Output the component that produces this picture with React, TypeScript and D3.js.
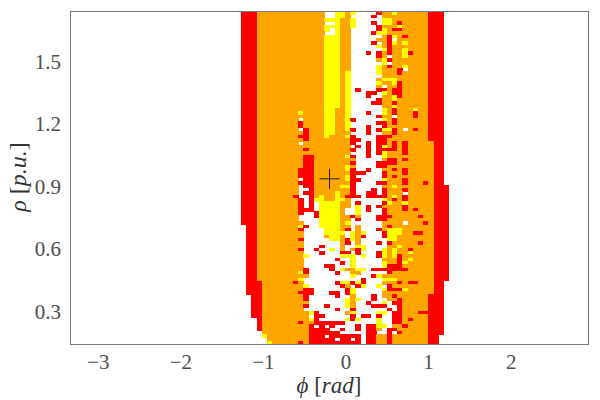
import React from 'react';
import * as d3 from 'd3';

// grid is 100 x 100, only columns 33..72 hold anything
const firstColumn = 33;
const gridSize = 100;

// r red, o orange, y yellow, w white. top row first, spaces are only for reading
const rows = [
  'rrr oooooooo ooooo wwyyo ywwww rooyo ooooo rrrw',
  'rrr oooooooo ooooo wwyyo wwwwr woooo ooooo rrrw',
  'rrr oooooooo ooooo yyyoo ywwww wyyoo ooooo rrrw',
  'rrr oooooooo ooooo wwyoo ywwwr wyyor ooooo rrrw',
  'rrr oooooooo ooooo yyyoo ywwww roooy ooooo rrrw',
  'rrr oooooooo ooooo ywyoo wwwww ryorr ooooo rrrw',
  'rrr oooooooo ooooo wwyoo wwwwr yyooo ooooo rrrw',
  'rrr oooooooo ooooo yyyoo wwwww woryo roooo rrrw',
  'rrr oooooooo ooooo yyyoo wwwww oorwo ooooo rrrw',
  'rrr oooooooo ooooo yyyoo wwwwr woryo yoooo rrrw',
  'rrr oooooooo ooooo yyyoo wwwww yoroo ooooo rrrw',
  'rrr oooooooo ooooo yyyoo wwwww wyroo yoooo rrrw',
  'rrr oooooooo ooooo yyyoo wwwrw roroo yrooo rrrw',
  'rrr oooooooo ooooo yyyoo wwwww rowoo yoooo rrrw',
  'rrr oooooooo ooooo yyyoo wwwww oyroo ooooo rrrw',
  'rrr oooooooo ooooo yyyoo wwwww wywoo ooooo rrrw',
  'rrr oooooooo ooooo yyyoo wwwww yoroo yoooo rrrw',
  'rrr oooooooo ooooo yyyoo wwwww yooor woooo rrrw',
  'rrr oooooooo ooooo yyyoy wwwww yooor ooooo rrrw',
  'rrr oooooooo ooooo yyyoy wwwww woooo ooooo rrrw',
  'rrr oooooooo ooooo yyyoy wwwww oyyyo ooooo rrrw',
  'rrr oooooooo ooooo yyyoy wwwww yooyr ooooo rrrw',
  'rrr oooooooo ooooo yyyoy wwwww owoor ooooo rrrw',
  'rrr oooooooo ooooo yyyoy wrwww rrorr ooooo rrrw',
  'rrr oooooooo ooooo yyyoy wwwrr wyorr ooooo rrrw',
  'rrr oooooooo ooooo yyyoy wwwrw wooyr ooooo rrrw',
  'rrr oooooooo ooooo yyyoy wwwww rooyo ooooo rrrw',
  'rrr oooooooo ooooo yyyoy wwwwr rooro ooooo rrrw',
  'rrr oooooooo ooooo yyyoy wwwww wooyo ooooo rrrw',
  'rrr oooooooo ooooo yyooy wwwww wyoro ooyoo rrrw',
  'rrr oooooooo yoooo yyooy wwwrw wyoro ooroo rrrw',
  'rrr oooooooo ooooo yyooy wwwww roowo ooroo rrrw',
  'rrr oooooooo woooo yyooy rwwww wyoro ooooo rrrw',
  'rrr oooooooo roooo yyooy wwwww rroro ooooo rrrw',
  'rrr oooooooo roooo yyooy wwwrw wrooo ooooo rrrw',
  'rrr oooooooo wrooo yyooy rwwrw ryyro woroo rrrw',
  'rrr oooooooo orooo yyooo wwwrw wooro ooooo rrrw',
  'rrr oooooooo rrooo yoooy rwwww rrroo ooooo rrrw',
  'rrr oooooooo orooo ooooo rrwww rrooo ooooo rrrw',
  'rrr oooooooo woooo ooooo rwwrw rroro roooo orrw',
  'rrr oooooooo ooooo ooooo wrwrw ryoro roooo orrw',
  'rrr oooooooo orooo ooooo rwwrw rrrro roooo orrw',
  'rrr oooooooo ooooo ooooo wwwrw ryooo roooo orrw',
  'rrr oooooooo orroo ooooy rwwrw wyooo ooooo orrw',
  'rrr oooooooo orroo ooooo owwww worro roooo orrw',
  'rrr oooooooo orroo ooooo rwwww rrrro ooooo orrw',
  'rrr oooooooo orroo ooooy owwww rrooo ooooo orrw',
  'rrr oooooooo rrroo ooooy rwwrw wooro roooo orrw',
  'rrr oooooooo rrroo ooooo rrrww wrooo roooo orrw',
  'rrr oooooooo rrroo ooooy rwwww wroro ooooo orrw',
  'rrr oooooooo wrroo ooooy rrwww wyooo roooo orrw',
  'rrr oooooooo rrroo ooooo rwwww rrooo rooor orrw',
  'rrr oooooooo wrroo oooyy rwwww wooyo ooooo orrr',
  'rrr oooooooo wwroo ooooo rwwwr wrooo roooo orrr',
  'rrr oooooooo wrroo ooyoo rwwrr wrooo woooo orrr',
  'rrr ooooooor wwroy ooyor rrwrr rroyo roooo orrr',
  'rrr oooooooo rwryy ooyyo wwwww wyoro roooo orrr',
  'rrr oooooooo rwrwy yyyoo wrwww wryoo yoooo orrr',
  'rrr oooooooo rwrwy yyyoo wywrw roooo roooo orrr',
  'rrr oooooooo rrrwy yyyow wywrw wrooo roroo orrr',
  'rrr oooooooo rwwry yyyow wywww wrooo ooooo orrr',
  'rrr oooooooo wwwry yyyoo rowww rrroo oooro orrr',
  'rrr oooooooo wwwwy yyyoo wrwww rrooo ooooo orrr',
  'rrr oooooooo owwwy yyyoy wwwww woooo wooor orrr',
  'wrr oooooooo yrwwy yyyoo wowww woroo ooooo orrr',
  'wrr oooooooo rwwww yyyor wowww royyy ooooo orrr',
  'wrr oooooooo owwww yyyyw yoyww wryyy oorro orrr',
  'wrr oooooooo owwww oyyow yorww wryyo ooooo orrr',
  'wrr oooooooo rwwww wyyor yowww wwyyo ooooo orrr',
  'wrr oooooooo owwww wwwor wowww rwroo oooro orrr',
  'wrr oooooooo owwwr wwwow wyyww wwooy ooooo orrr',
  'wrr oooooooo rwwrw wywow oryww wyoyo orooo orrr',
  'wrr oooooooo owwwr wwwrr wrwww ryoyo oyooo orrr',
  'wrr oooooooo oywww wwwyy ywyww ryoyr ooooo orrr',
  'wrr oooooooo owwww wwrww ywwww wooor oyooo orrr',
  'wrr oooooooo owwww wwwrw ywwww wyoor yoooo orrr',
  'wrr oooooooo owwww rrwww ywwww wyrrr ooooo orrr',
  'wrr oooooooo orwww wrwyo oyywr rrrrr roooo orrr',
  'wrr oooooooo yrwww wwrww oowww wwroo ooooo orrr',
  'wrr oooooooo oowww wwwww ywwwr yoooo ooooo orrr',
  'wrr oooooooo ywwww wwwww wwrww wyyyo ooooo orrr',
  'wrr roooooor owwww wwryy ryrww wooor orroo orrw',
  'wrr rooooooo oywww wwwro wryww ywroo ooooo orrw',
  'wrr rooooooo orrww wwwwr ywwww wyrrr yoooo orrw',
  'wrr rooooooo rrrww wrrwr ywwww woooo ooooo orrw',
  'wwr rooooooo orwww wwrww owwwr wooro ooooo rrrw',
  'wwr rooooooo orwww wwwwy oywwr wwoor ooooo rrrw',
  'wwr rooooooo oowww wwwwy owwrw wywrr ooooo rrrw',
  'wwr rooooooo orwww rwwwy owwwr rrwwr ooooo rrrw',
  'wwr rooooooo owwww wwrww rwwww wwrwr ooooo rrrw',
  'wwr rooooooo ooyrw wwwwo ywwww yywrr ooorr rrrw',
  'wwr rooooooo oowrr wwwww rwrrw rwwrr ooooo rrrw',
  'www rooooooo ooyrw wwwwy rywww ywwrr orooo rrrw',
  'www rooooooo roorr rrrrw wwwww ywwrr ooooo rrrw',
  'www rooooooo oorwr wrwww wrwrr yywoo roooo rrrw',
  'www rooooooo oorrr rwwrw wrwrr owrro ooooo rrrw',
  'www wooooooo oorrr rrrww wwwrr wwrwr ooooo rrrw',
  'www wyoooooo oorrr wrrrr rrwrr ooroo ooooo rrww',
  'www wwoooooo oorrr rrwrr wrwrr ooroo ooooo rrww',
  'www wwyooooo rorrr rrrrr rrwrr ooroo ooooo rrww',
];

const categories = ['r', 'o', 'y', 'w'];
const categoryColors = ['#ff0000', '#ffa500', '#ffff00', '#ffffff'];

const xTicks = [-3, -2, -1, 0, 1, 2];
const yTicks = [0.3, 0.6, 0.9, 1.2, 1.5];
const marker = { phi: -0.2, rho: 0.938 };

const width = 600;
const height = 400;
const plot = { left: 71, right: 588, top: 12, bottom: 344 };

const App: React.FC = () => {
  const xScale = d3.scaleLinear().domain([-3.33, 2.93]).range([plot.left, plot.right]);
  const yScale = d3.scaleLinear().domain([0.145, 1.739]).range([plot.bottom, plot.top]);
  // the cells run a little past the frame, the clip path trims them
  const colScale = d3.scaleBand<number>().domain(d3.range(gridSize)).range([69.2, 589.7]);
  const rowScale = d3.scaleBand<number>().domain(d3.range(gridSize)).range([11.4, 344.4]);
  const color = d3.scaleOrdinal<string, string>().domain(categories).range(categoryColors);

  const cells = rows.flatMap((row, r) =>
    row.replace(/ /g, '').split('').map((value, c) => ({ r, c: c + firstColumn, value }))
  ).filter(d => d.value !== 'w');

  const mx = xScale(marker.phi);
  const my = yScale(marker.rho);

  return (
    <svg
      width={width}
      height={height}
      style={{ position: 'absolute', left: 0, top: 0, background: '#fff' }}
      fontFamily="'Liberation Serif', serif"
    >
      <defs>
        <clipPath id="plot-area">
          <rect x={plot.left} y={plot.top} width={plot.right - plot.left} height={plot.bottom - plot.top} />
        </clipPath>
      </defs>
      <g clipPath="url(#plot-area)" shapeRendering="crispEdges">
        {cells.map(d => (
          <rect
            key={`${d.r}-${d.c}`}
            x={colScale(d.c)}
            y={rowScale(d.r)}
            width={colScale.bandwidth() + 0.3}
            height={rowScale.bandwidth() + 0.3}
            fill={color(d.value)}
          />
        ))}
      </g>
      <rect
        x={plot.left - 0.5}
        y={plot.top - 0.5}
        width={plot.right - plot.left + 1}
        height={plot.bottom - plot.top + 1}
        fill="none"
        stroke="#777"
        strokeWidth={1}
      />
      {/* operating point */}
      <g stroke="#1a1a1a" strokeWidth={1}>
        <line x1={mx - 10} x2={mx + 10} y1={my} y2={my} />
        <line x1={mx} x2={mx} y1={my - 10} y2={my + 10} />
      </g>
      {xTicks.map(t => (
        <text key={t} x={xScale(t)} y={369} textAnchor="middle" fontSize={21} fill="#4d4d4d">
          {t < 0 ? `\u2212${-t}` : t}
        </text>
      ))}
      {yTicks.map(t => (
        <text key={t} x={61} y={yScale(t) + 7} textAnchor="end" fontSize={21} fill="#4d4d4d">
          {t.toFixed(1)}
        </text>
      ))}
      <text x={329} y={393} textAnchor="middle" fontSize={23} fill="#333" fontStyle="italic">
        {'\u03d5 '}<tspan fontStyle="normal">[</tspan>rad<tspan fontStyle="normal">]</tspan>
      </text>
      <text
        transform="translate(26,177) rotate(-90)"
        textAnchor="middle"
        fontSize={24}
        fill="#333"
        fontStyle="italic"
      >
        {'\u03c1 '}<tspan fontStyle="normal">[</tspan>p.u.<tspan fontStyle="normal">]</tspan>
      </text>
    </svg>
  );
};

export default App;
